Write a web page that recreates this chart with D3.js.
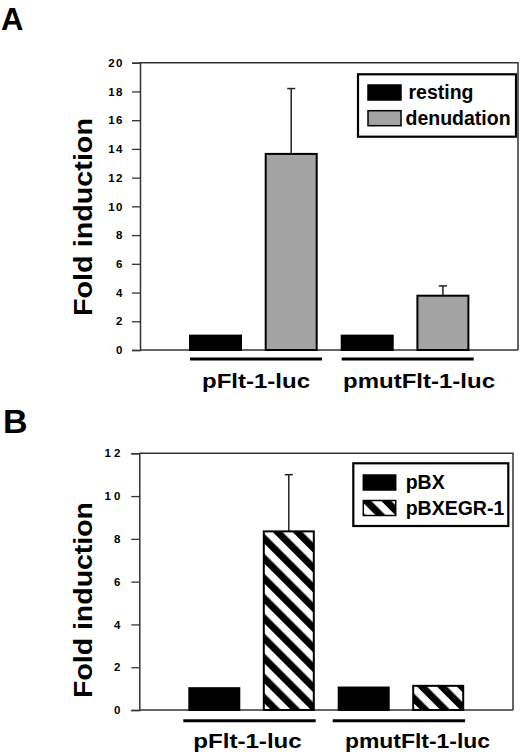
<!DOCTYPE html>
<html>
<head>
<meta charset="utf-8">
<script src="https://cdn.jsdelivr.net/npm/d3@7"></script>
<style>
  html, body { margin: 0; padding: 0; background: #fff; }
  svg { display: block; }
  text { font-family: "Liberation Sans", Arial, sans-serif; font-weight: bold; fill: #000; }
</style>
</head>
<body>
<svg id="chart" width="520" height="756"></svg>
<script>
// ---------- data ----------
const categories = ["pFlt-1-luc", "pmutFlt-1-luc"];

const seriesA = ["resting", "denudation"];
const valuesA_resting = [1.0, 1.0];
const valuesA_denudation = [13.65, 3.78];
const errorsA_denudation = [4.55, 0.68];
const ticksA = [0, 2, 4, 6, 8, 10, 12, 14, 16, 18, 20];

const seriesB = ["pBX", "pBXEGR-1"];
const valuesB_pBX = [1.02, 1.05];
const valuesB_pBXEGR1 = [8.35, 1.13];
const errorsB_pBXEGR1 = [2.65, 0];
const ticksB = [0, 2, 4, 6, 8, 10, 12];

const yTitle = "Fold induction";

// ---------- drawing ----------
const svg = d3.select("#chart");
const defs = svg.append("defs");
const pat = defs.append("pattern")
  .attr("id", "hatch")
  .attr("patternUnits", "userSpaceOnUse")
  .attr("width", 14.1).attr("height", 14.1)
  .attr("patternTransform", "rotate(-45)");
pat.append("rect").attr("width", 14.1).attr("height", 14.1).attr("fill", "#fff");
pat.append("rect").attr("x", 0).attr("width", 7).attr("height", 14.1).attr("fill", "#000");

function drawPanel(cfg) {
  const g = svg.append("g");
  const y = d3.scaleLinear().domain(cfg.domain).range([cfg.bottom, cfg.top]);
  const x0 = d3.scaleBand().domain(categories)
    .range([cfg.x0start, cfg.x0start + 2 * cfg.groupStep]).padding(0);
  const x1 = d3.scaleBand().domain(cfg.series)
    .range([cfg.innerStart, cfg.innerStart + 2 * cfg.barStep - (cfg.barStep - cfg.barW)])
    .paddingInner((cfg.barStep - cfg.barW) / cfg.barStep).paddingOuter(0);

  // panel letter
  g.append("text").attr("x", cfg.letterX).attr("y", cfg.letterY)
    .attr("font-size", cfg.letterSize).text(cfg.letter);

  // frame (top + right)
  g.append("path")
    .attr("d", `M${cfg.left},${cfg.top}H${cfg.right}V${cfg.bottom}`)
    .attr("fill", "none").attr("stroke", "#333").attr("stroke-width", 1.5);
  // x baseline
  g.append("line").attr("x1", cfg.left).attr("x2", cfg.right)
    .attr("y1", cfg.bottom).attr("y2", cfg.bottom)
    .attr("stroke", "#333").attr("stroke-width", 1.5);

  // y axis
  const yAxis = d3.axisLeft(y).tickValues(cfg.ticks).tickSize(8).tickPadding(8)
    .tickFormat(d3.format("d"));
  const ya = g.append("g").attr("transform", `translate(${cfg.left},0)`).call(yAxis);
  ya.select(".domain").attr("stroke", "#333").attr("stroke-width", 1.5);
  ya.selectAll(".tick line").attr("stroke", "#333").attr("stroke-width", 1.3);
  ya.selectAll(".tick text")
    .style("font-family", '"Liberation Sans", Arial, sans-serif')
    .style("font-weight", "bold").attr("font-size", 11.5)
    .attr("letter-spacing", cfg.tickSpacing).attr("fill", "#000");

  // y title
  g.append("text")
    .attr("transform", `translate(${cfg.titleX},${cfg.titleY}) rotate(-90)`)
    .attr("text-anchor", "middle").attr("font-size", 26)
    .attr("textLength", cfg.titleLen).attr("lengthAdjust", "spacingAndGlyphs")
    .text(yTitle);

  // bars
  const rows = [];
  categories.forEach((c, i) => {
    cfg.series.forEach((s, j) => {
      rows.push({ cat: c, ser: s, v: cfg.values[j][i], e: cfg.errors[j][i], j });
    });
  });
  const bars = g.append("g").selectAll("g").data(rows).join("g")
    .attr("transform", d => `translate(${x0(d.cat)},0)`);
  bars.filter(d => d.e > 0).each(function (d) {
    const cx = x1(d.ser) + x1.bandwidth() / 2;
    const sel = d3.select(this);
    sel.append("line").attr("x1", cx).attr("x2", cx)
      .attr("y1", y(d.v)).attr("y2", y(d.v + d.e))
      .attr("stroke", "#222").attr("stroke-width", 1.5);
    sel.append("line").attr("x1", cx - 4).attr("x2", cx + 4)
      .attr("y1", y(d.v + d.e)).attr("y2", y(d.v + d.e))
      .attr("stroke", "#222").attr("stroke-width", 1.5);
  });
  bars.append("rect")
    .attr("x", d => x1(d.ser)).attr("width", x1.bandwidth())
    .attr("y", d => y(d.v)).attr("height", d => y(0) - y(d.v))
    .attr("fill", d => cfg.fills[d.j]).attr("stroke", "#000").attr("stroke-width", 2);

  // group underlines and labels
  categories.forEach((c, i) => {
    const a = x0(c) + cfg.lineOff[0], b = x0(c) + cfg.lineOff[1];
    g.append("line").attr("x1", a).attr("x2", b)
      .attr("y1", cfg.lineY).attr("y2", cfg.lineY)
      .attr("stroke", "#000").attr("stroke-width", 3);
    g.append("text").attr("x", cfg.labelX[i]).attr("y", cfg.labelY)
      .attr("text-anchor", "middle").attr("font-size", 21)
      .attr("textLength", cfg.labelLen[i]).attr("lengthAdjust", "spacingAndGlyphs")
      .text(c);
  });

  // legend
  const L = cfg.legend;
  g.append("rect").attr("x", L.x).attr("y", L.y).attr("width", L.w).attr("height", L.h)
    .attr("fill", "#fff").attr("stroke", "#000").attr("stroke-width", 2.2);
  cfg.series.forEach((s, j) => {
    g.append("rect").attr("x", L.sx).attr("y", L.sy[j]).attr("width", L.sw).attr("height", 15)
      .attr("fill", cfg.fills[j]).attr("stroke", "#000").attr("stroke-width", 1.5);
    g.append("text").attr("x", L.tx[j]).attr("y", L.sy[j] + 14)
      .attr("font-size", 19.5).text(s);
  });
}

drawPanel({
  letter: "A", letterX: 1, letterY: 30, letterSize: 31,
  domain: [0, 20], ticks: ticksA, tickSpacing: 1.5,
  left: 140, right: 518, top: 62.7, bottom: 350,
  series: seriesA,
  values: [valuesA_resting, valuesA_denudation],
  errors: [[0, 0], errorsA_denudation],
  fills: ["#000", "#a3a3a3"],
  x0start: 180, groupStep: 151.7, innerStart: 10, barStep: 75.7, barW: 51,
  lineOff: [10, 142], lineY: 359,
  labelX: [256, 419], labelY: 388, labelLen: [108, 152],
  titleX: 92, titleY: 217, titleLen: 198,
  legend: { x: 358, y: 74.3, w: 158, h: 62.4, sx: 368, sy: [85, 110.7], sw: 33, tx: [408.5, 405.5] }
});

drawPanel({
  letter: "B", letterX: 3, letterY: 433, letterSize: 34,
  domain: [0, 12], ticks: ticksB, tickSpacing: 3,
  left: 139.3, right: 513, top: 453.3, bottom: 710,
  series: seriesB,
  values: [valuesB_pBX, valuesB_pBXEGR1],
  errors: [[0, 0], errorsB_pBXEGR1],
  fills: ["#000", "url(#hatch)"],
  x0start: 179.3, groupStep: 149.4, innerStart: 10, barStep: 74.5, barW: 50,
  lineOff: [4, 136.4], lineY: 720.7,
  labelX: [247.5, 417.5], labelY: 747.7, labelLen: [108.5, 145],
  titleX: 92, titleY: 600, titleLen: 196,
  legend: { x: 353.3, y: 463.3, w: 155, h: 62.7, sx: 363.3, sy: [475, 500.5], sw: 32.4, tx: [405.7, 405.7] }
});
</script>
</body>
</html>
